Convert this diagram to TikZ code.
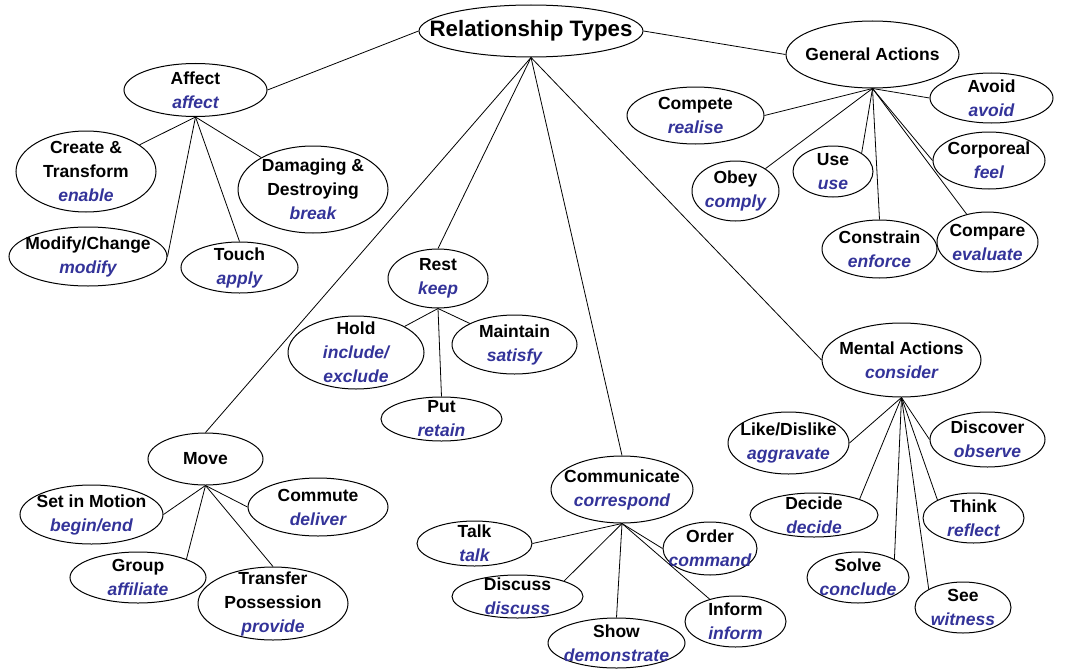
\documentclass[tikz,border=0pt]{standalone}
\usepackage{fontspec}
\setmainfont{Liberation Sans}
\usepackage{xcolor}
\usepackage{tikz}
\usetikzlibrary{shapes.geometric}

\definecolor{verbblue}{RGB}{51,51,153}
\newcommand{\vb}[1]{\textcolor{verbblue}{\itshape #1}}

\begin{document}
\begin{tikzpicture}[
  x=1pt, y=-1pt,
  rel/.style={draw, ellipse, line width=1pt, inner sep=-40pt, align=center,
    font=\fontsize{17.5}{24}\selectfont\bfseries},
  top/.style={rel, font=\fontsize{22.3}{26}\selectfont\bfseries},
  link/.style={line width=0.8pt}
]
\useasboundingbox (0,0) rectangle (1065,669);

% top level
\node[top, minimum width=224, minimum height=52] (root) at (531,31) {Relationship Types};
\node[rel, minimum width=173, minimum height=67] (genact) at (872.5,54.5) {General Actions};
\node[rel, minimum width=143, minimum height=53] (affect) at (195.5,90) {Affect\\\vb{affect}};
\node[rel, minimum width=100, minimum height=59] (rest) at (438,278.5) {Rest\\\vb{keep}};
\node[rel, minimum width=115, minimum height=52] (move) at (205.5,459) {Move};
\node[rel, minimum width=142, minimum height=67] (comm) at (622,489.5) {Communicate\\\vb{correspond}};
\node[rel, minimum width=159, minimum height=74] (mental) at (901.5,360) {Mental Actions\\\vb{consider}};

% affect
\node[rel, minimum width=140, minimum height=81] (create) at (86,171.5) {Create \&\\Transform\\\vb{enable}};
\node[rel, minimum width=150, minimum height=87] (damage) at (313,189.5) {Damaging \&\\Destroying\\\vb{break}};
\node[rel, minimum width=158, minimum height=59] (modify) at (88,256.5) {Modify/Change\\\vb{modify}};
\node[rel, minimum width=117, minimum height=51] (touch) at (239.5,267.5) {Touch\\\vb{apply}};

% general actions
\node[rel, minimum width=137, minimum height=57] (compete) at (695.5,115.5) {Compete\\\vb{realise}};
\node[rel, minimum width=123, minimum height=50] (avoid) at (991.5,98) {Avoid\\\vb{avoid}};
\node[rel, minimum width=87, minimum height=60] (obey) at (735.5,191) {Obey\\\vb{comply}};
\node[rel, minimum width=80, minimum height=51] (use) at (833,171.5) {Use\\\vb{use}};
\node[rel, minimum width=115, minimum height=58] (constrain) at (879.5,249) {Constrain\\\vb{enforce}};
\node[rel, minimum width=112, minimum height=57] (corporeal) at (989,160.5) {Corporeal\\\vb{feel}};
\node[rel, minimum width=101, minimum height=60] (compare) at (987.5,242) {Compare\\\vb{evaluate}};

% rest
\node[rel, minimum width=136, minimum height=73] (hold) at (356,352.5) {Hold\\\vb{include/}\\\vb{exclude}};
\node[rel, minimum width=125, minimum height=59] (maintain) at (514.5,344.5) {Maintain\\\vb{satisfy}};
\node[rel, minimum width=121, minimum height=44] (put) at (441.5,419) {Put\\\vb{retain}};

% move
\node[rel, minimum width=143, minimum height=59] (setmotion) at (91.5,514.5) {Set in Motion\\\vb{begin/end}};
\node[rel, minimum width=140, minimum height=58] (commute) at (318,507) {Commute\\\vb{deliver}};
\node[rel, minimum width=136, minimum height=51] (group) at (138,577.5) {Group\\\vb{affiliate}};
\node[rel, minimum width=150, minimum height=73] (transfer) at (273,603.5) {Transfer\\Possession\\\vb{provide}};

% communicate
\node[rel, minimum width=115, minimum height=45] (talk) at (474.5,543.5) {Talk\\\vb{talk}};
\node[rel, minimum width=131, minimum height=43] (discuss) at (517.5,596.5) {Discuss\\\vb{discuss}};
\node[rel, minimum width=137, minimum height=50] (show) at (616.5,643) {Show\\\vb{demonstrate}};
\node[rel, minimum width=94, minimum height=53] (order) at (710,548.5) {Order\\\vb{command}};
\node[rel, minimum width=101, minimum height=51] (inform) at (735.5,621.5) {Inform\\\vb{inform}};

% mental actions
\node[rel, minimum width=121, minimum height=62] (likes) at (788.5,443) {Like/Dislike\\\vb{aggravate}};
\node[rel, minimum width=115, minimum height=55] (discover) at (987.5,439.5) {Discover\\\vb{observe}};
\node[rel, minimum width=128, minimum height=44] (decide) at (814,515) {Decide\\\vb{decide}};
\node[rel, minimum width=101, minimum height=50] (think) at (973.5,518) {Think\\\vb{reflect}};
\node[rel, minimum width=102, minimum height=51] (solve) at (858,577.5) {Solve\\\vb{conclude}};
\node[rel, minimum width=96, minimum height=51] (see) at (963,607.5) {See\\\vb{witness}};

% links
\draw[link] (root.west) -- (affect.east);
\draw[link] (root.east) -- (genact.west);
\draw[link] (root.south) -- (rest.north);
\draw[link] (root.south) -- (move.north);
\draw[link] (root.south) -- (comm.north);
\draw[link] (root.south) -- (mental.west);

\draw[link] (affect.south) -- (create);
\draw[link] (affect.south) -- (damage);
\draw[link] (affect.south) -- (modify.east);
\draw[link] (affect.south) -- (touch.north);

\draw[link] (genact.south) -- (compete.east);
\draw[link] (genact.south) -- (avoid.west);
\draw[link] (genact.south) -- (obey);
\draw[link] (genact.south) -- (use.north east);
\draw[link] (genact.south) -- (constrain.north);
\draw[link] (genact.south) -- (corporeal.west);
\draw[link] (genact.south) -- (compare);

\draw[link] (rest.south) -- (hold);
\draw[link] (rest.south) -- (maintain);
\draw[link] (rest.south) -- (put.north);

\draw[link] (move.south) -- (setmotion.east);
\draw[link] (move.south) -- (commute.west);
\draw[link] (move.south) -- (group.north east);
\draw[link] (move.south) -- (transfer.north);

\draw[link] (comm.south) -- (talk.east);
\draw[link] (comm.south) -- (discuss.north east);
\draw[link] (comm.south) -- (show.north);
\draw[link] (comm.south) -- (order.west);
\draw[link] (comm.south) -- (inform);

\draw[link] (mental.south) -- (likes.east);
\draw[link] (mental.south) -- (discover.west);
\draw[link] (mental.south) -- (decide.north east);
\draw[link] (mental.south) -- (think.north west);
\draw[link] (mental.south) -- (solve.north east);
\draw[link] (mental.south) -- (see.north west);

\end{tikzpicture}
\end{document}
